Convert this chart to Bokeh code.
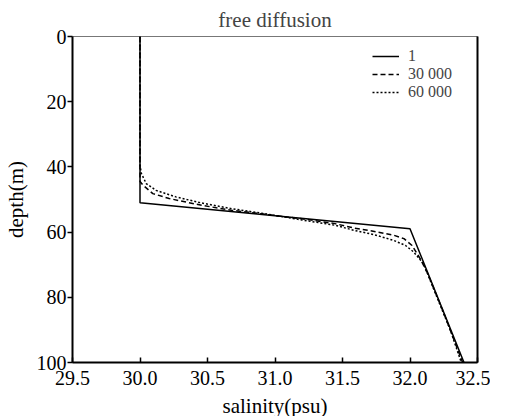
from bokeh.plotting import figure
from bokeh.models import Range1d, LinearAxis, FixedTicker, Legend, LegendItem, NumeralTickFormatter
from bokeh.embed import file_html
from bokeh.resources import INLINE

# ---- data ----
sal_1 = [30.0, 30.0, 32.0, 32.4]
dep_1 = [0, 51, 59, 100]

sal_30000 = [30.0, 30.0, 30.022, 30.095, 30.216, 30.459, 30.678, 30.9, 31.05, 31.2,
             31.445, 31.59, 31.736, 31.882, 31.955, 32.015, 32.076, 32.13, 32.25, 32.39]
dep_30000 = [0, 44.5, 45.6, 48.2, 49.7, 51.8, 53.3, 54.4, 55.2, 55.9,
             57.4, 58.8, 59.8, 61.0, 62.0, 64.1, 68.2, 72.6, 84.8, 100]

sal_60000 = [30.0, 30.0, 30.01, 30.046, 30.119, 30.265, 30.459, 30.678, 30.9, 31.05, 31.2,
             31.445, 31.59, 31.736, 31.882, 31.967, 32.027, 32.1, 32.2, 32.3, 32.38]
dep_60000 = [0, 39.5, 42.0, 45.1, 47.2, 49.2, 51.1, 52.8, 54.2, 55.2, 56.3,
             57.9, 59.5, 60.8, 62.6, 64.1, 66.1, 69.7, 80.0, 90.2, 100]

x_ticks = [29.5, 30.0, 30.5, 31.0, 31.5, 32.0, 32.5]
y_ticks = [0, 20, 40, 60, 80, 100]
labels = ["1", "30 000", "60 000"]
title_text = "free diffusion"

FONT = "Liberation Serif"

p = figure(width=490, height=420, output_backend="svg", toolbar_location=None,
           x_range=Range1d(29.5, 32.5), y_range=Range1d(100, 0),
           min_border_left=65, min_border_right=13, min_border_top=0, min_border_bottom=40,
           title=title_text)
p.title.text_font = FONT
p.title.text_font_size = "21px"
p.title.text_font_style = "normal"
p.title.align = "center"
p.title.standoff = 10

p.grid.visible = False
p.outline_line_color = "#777777"
p.outline_line_width = 1
p.background_fill_color = "white"
p.border_fill_color = "white"

r1 = p.line(sal_1, dep_1, line_color="black", line_width=1.5)
r2 = p.line(sal_30000, dep_30000, line_color="black", line_width=1.5, line_dash="5 3")
r3 = p.line(sal_60000, dep_60000, line_color="black", line_width=1.5, line_dash="2 2")

xa = p.xaxis[0]
xa.ticker = FixedTicker(ticks=x_ticks)
xa.formatter = NumeralTickFormatter(format="0.0")
xa.axis_label = "salinity(psu)"
xa.major_tick_in = 5
xa.major_tick_out = 0
xa.minor_tick_line_color = None
xa.axis_line_width = 2
xa.major_tick_line_width = 1.5
xa.major_label_standoff = 8
xa.axis_label_standoff = 6

ya = p.yaxis[0]
ya.ticker = FixedTicker(ticks=y_ticks)
ya.axis_label = "depth(m)"
ya.major_tick_in = 0
ya.major_tick_out = 5
ya.minor_tick_line_color = None
ya.axis_line_width = 2
ya.major_tick_line_width = 1.5
ya.major_label_standoff = 1
ya.axis_label_standoff = 6

for ax in (xa, ya):
    ax.major_label_text_font = FONT
    ax.major_label_text_font_size = "20px"
    ax.axis_label_text_font = FONT
    ax.axis_label_text_font_size = "21px"
    ax.axis_label_text_font_style = "normal"
    ax.axis_line_color = "black"
    ax.major_tick_line_color = "black"
    ax.major_label_text_color = "black"
    ax.axis_label_text_color = "black"

right = LinearAxis(ticker=FixedTicker(ticks=[]), axis_line_width=2, axis_line_color="black",
                   minor_tick_line_color=None, major_tick_line_color=None)
p.add_layout(right, "right")

# one legend per row so the rows can sit close together as in the reference
renderers = [r1, r2, r3]
row_bottoms = [297.5, 279.5, 261.5]
for lab, rr, yb in zip(labels, renderers, row_bottoms):
    lg = Legend(items=[LegendItem(label=lab, renderers=[rr])],
                location=(300, yb), border_line_color=None, background_fill_alpha=0,
                label_text_font=FONT, label_text_font_size="16px",
                glyph_width=27, glyph_height=16, label_height=16, spacing=0,
                label_standoff=9, padding=0, margin=0)
    p.add_layout(lg)

open("out.html", "w").write(file_html(p, INLINE))
